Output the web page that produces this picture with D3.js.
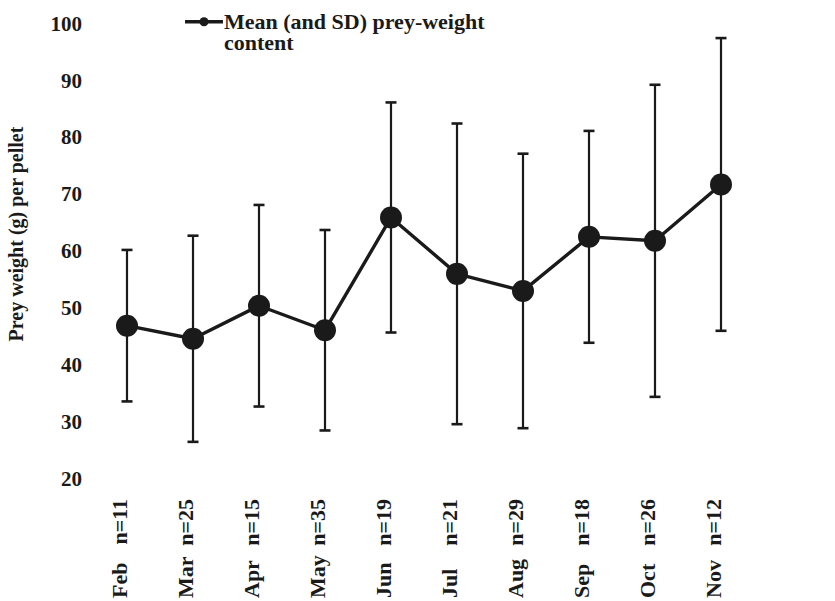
<!DOCTYPE html>
<html>
<head>
<meta charset="utf-8">
<script src="https://cdn.jsdelivr.net/npm/d3@7"></script>
<style>
  html, body { margin: 0; padding: 0; background: #fff; }
  svg { display: block; }
  text { font-family: "Liberation Serif", "Times New Roman", serif; font-weight: bold; fill: #1a1a1a; }
</style>
</head>
<body>
<svg id="chart" width="835" height="601"></svg>
<script>
// Monthly pellet samples
const months = ["Feb", "Mar", "Apr", "May", "Jun", "Jul", "Aug", "Sep", "Oct", "Nov"];
const sampleSizes = [11, 25, 15, 35, 19, 21, 29, 18, 26, 12];
// Mean prey weight (g) per pellet and its standard deviation
const meanWeight = [46.8, 44.5, 50.3, 46.0, 65.8, 55.9, 52.9, 62.4, 61.7, 71.6];
const sdWeight   = [13.3, 18.1, 17.7, 17.6, 20.2, 26.4, 24.1, 18.6, 27.4, 25.7];
const yTicks = [20, 30, 40, 50, 60, 70, 80, 90, 100];

const ink = "#1a1a1a";
const svg = d3.select("#chart");

const x = d3.scalePoint().domain(months).range([127, 721]);
const y = d3.scaleLinear().domain([20, 100]).range([478.3, 22.7]);

const data = months.map((m, i) => ({
  month: m, n: sampleSizes[i], mean: meanWeight[i], sd: sdWeight[i]
}));

// Y axis: labels only, no line or tick marks
const yAxis = d3.axisLeft(y).tickValues(yTicks).tickSize(0).tickPadding(0);
const yg = svg.append("g").attr("transform", "translate(82,0)").call(yAxis);
yg.select(".domain").remove();
yg.selectAll("text")
  .attr("font-family", "Liberation Serif, serif")
  .attr("font-weight", "bold")
  .attr("font-size", 21)
  .attr("fill", ink)
  .attr("dy", "0.35em");

// Y axis title
svg.append("text")
  .attr("transform", "translate(23,234) rotate(-90)")
  .attr("text-anchor", "middle")
  .attr("font-size", 20)
  .text("Prey weight (g) per pellet");

// X labels: month and sample size, rotated
const xl = svg.append("g");
data.forEach(d => {
  const cx = x(d.month) - 0;
  xl.append("text")
    .attr("transform", `translate(${cx},598) rotate(-90)`)
    .attr("text-anchor", "start")
    .attr("font-size", 22)
    .text(d.month);
  xl.append("text")
    .attr("transform", `translate(${cx},499) rotate(-90)`)
    .attr("text-anchor", "end")
    .attr("font-size", 22)
    .text("n=" + d.n);
});

// Error bars (mean ± SD)
const eb = svg.append("g").attr("stroke", ink).attr("fill", "none");
data.forEach(d => {
  const cx = x(d.month);
  const top = y(d.mean + d.sd), bot = y(d.mean - d.sd);
  eb.append("line").attr("x1", cx).attr("x2", cx).attr("y1", top).attr("y2", bot).attr("stroke-width", 2.2);
  eb.append("line").attr("x1", cx - 5.5).attr("x2", cx + 5.5).attr("y1", top).attr("y2", top).attr("stroke-width", 2.6);
  eb.append("line").attr("x1", cx - 5.5).attr("x2", cx + 5.5).attr("y1", bot).attr("y2", bot).attr("stroke-width", 2.6);
});

// Connecting line through the means
const line = d3.line().x(d => x(d.month)).y(d => y(d.mean));
svg.append("path")
  .datum(data)
  .attr("d", line)
  .attr("fill", "none")
  .attr("stroke", ink)
  .attr("stroke-width", 3.4)
  .attr("stroke-linejoin", "round");

// Mean markers
svg.append("g").selectAll("circle")
  .data(data)
  .join("circle")
  .attr("cx", d => x(d.month))
  .attr("cy", d => y(d.mean))
  .attr("r", 11)
  .attr("fill", ink);

// Legend
const lg = svg.append("g");
lg.append("line").attr("x1", 185).attr("x2", 223).attr("y1", 21.7).attr("y2", 21.7)
  .attr("stroke", ink).attr("stroke-width", 3.4);
lg.append("circle").attr("cx", 204).attr("cy", 21.7).attr("r", 4.5).attr("fill", ink);
const lt = lg.append("text").attr("x", 224).attr("y", 29).attr("font-size", 22);
lt.append("tspan").attr("x", 224).attr("y", 29).text("Mean (and SD) prey-weight");
lt.append("tspan").attr("x", 224).attr("y", 50).text("content");
</script>
</body>
</html>
